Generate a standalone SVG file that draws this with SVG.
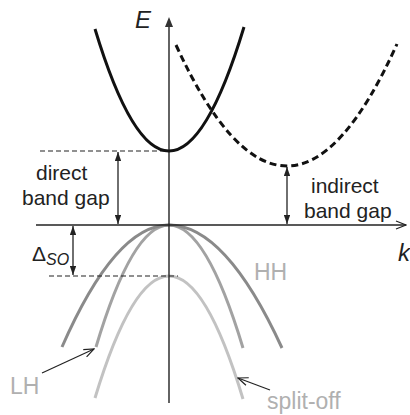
<svg xmlns="http://www.w3.org/2000/svg" width="410" height="415" viewBox="0 0 410 415">
<style>
text{font-family:"Liberation Sans",Arial,sans-serif;fill:#222}
.lbl{font-size:21px}
.gray{font-size:23px;fill:#b0b0b0}
.it{font-style:italic}
.axis{stroke:#222;stroke-width:1.4;fill:none}
.guide{stroke:#222;stroke-width:1.2;stroke-dasharray:5 3;fill:none}
.gap{stroke:#222;stroke-width:1.3;fill:none;marker-start:url(#tri);marker-end:url(#tri)}
.band{fill:none;stroke-width:3;stroke-linecap:butt}
.ptr{stroke:#222;stroke-width:1.2;fill:none;marker-end:url(#chev)}
</style>
<defs>
<marker id="tri" viewBox="0 0 10 7" refX="10" refY="3.5" markerWidth="9" markerHeight="6.3" markerUnits="userSpaceOnUse" orient="auto-start-reverse">
<path d="M0,0 L10,3.5 L0,7 Z" fill="#222"/>
</marker>
<marker id="chev" viewBox="0 0 12 10" refX="11" refY="5" markerWidth="12" markerHeight="10" markerUnits="userSpaceOnUse" orient="auto">
<path d="M1,1 L11,5 L1,9" fill="none" stroke="#222" stroke-width="1.2"/>
</marker>
</defs>

<g id="valence-bands">
<path id="split-off-band" class="band" stroke="#c2c2c2" d="M95,398 Q132,276 169,276 Q206,276 243,399"/>
<path id="lh-band" class="band" stroke="#a2a2a2" d="M96,347 Q132.5,225 169,225 Q206,225 243,348"/>
<path id="hh-band" class="band" stroke="#8a8a8a" d="M62,347 Q115.5,225 169,225 Q225.5,225 282,348"/>
</g>

<g id="connectors">
<line class="axis" x1="169" y1="403" x2="169" y2="26" stroke="#555"/>
<path d="M165,27 L169,17 L173,27 Z" fill="#333"/>
<line class="axis" x1="36" y1="225" x2="406" y2="225" marker-end="url(#chev)"/>
<line class="guide" x1="40" y1="151" x2="168" y2="151"/>
<line class="guide" x1="49" y1="276" x2="178" y2="276"/>
<line class="gap" x1="118" y1="152" x2="118" y2="224"/>
<line class="gap" x1="287" y1="167" x2="287" y2="224"/>
<line class="gap" x1="73" y1="226" x2="73" y2="275"/>
<line class="ptr" x1="42" y1="373" x2="94" y2="349"/>
<line class="ptr" x1="270" y1="390" x2="238" y2="378"/>
</g>

<g id="conduction-direct">
<path class="band" stroke="#111" d="M95,29 Q132,151 169,151 Q206.5,151 244,27"/>
</g>
<g id="conduction-indirect">
<path class="band" stroke="#111" stroke-dasharray="7 4" d="M176,45 Q231.5,166 287,166 Q342,166 397,44"/>
</g>

<g id="label-E"><text class="it" x="135" y="28" font-size="24">E</text></g>
<g id="label-k"><text class="it" x="398" y="261" font-size="24">k</text></g>
<g id="label-direct">
<text class="lbl" x="36" y="180">direct</text>
<text class="lbl" x="22" y="205">band gap</text>
</g>
<g id="label-indirect">
<text class="lbl" x="311" y="193">indirect</text>
<text class="lbl" x="304" y="218">band gap</text>
</g>
<g id="label-dso">
<text x="32" y="261" font-size="21">Δ<tspan class="it" font-size="16" dy="4">SO</tspan></text>
</g>
<g id="label-HH"><text class="gray" x="254" y="280">HH</text></g>
<g id="label-LH"><text class="gray" x="10" y="394">LH</text></g>
<g id="label-splitoff"><text class="gray" x="267" y="409">split-off</text></g>
</svg>
